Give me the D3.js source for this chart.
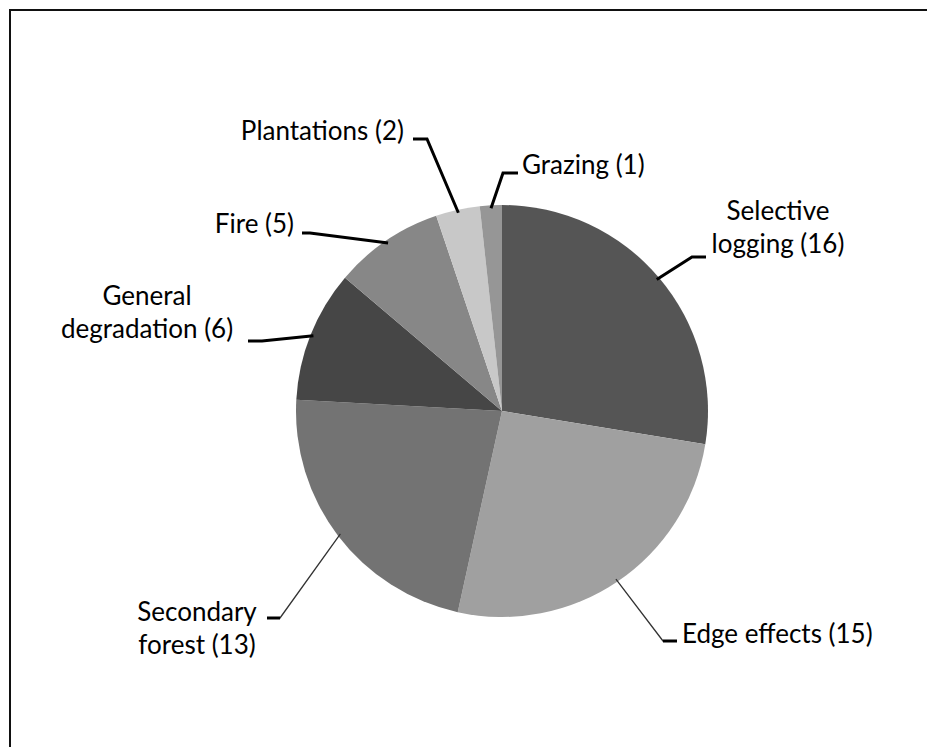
<!DOCTYPE html>
<html><head><meta charset="utf-8">
<script src="https://cdn.jsdelivr.net/npm/d3@7"></script>
<style>html,body{margin:0;padding:0;background:#fff;}svg{display:block;}</style>
</head><body>
<svg id="chart" width="927" height="747"></svg>
<script>
// ---- data ----
const categories = ["Selective logging", "Edge effects", "Secondary forest", "General degradation", "Fire", "Plantations", "Grazing"];
const counts = [16, 15, 13, 6, 5, 2, 1];
const labelLines = [["Selective", "logging (16)"], ["Edge effects (15)"], ["Secondary", "forest (13)"], ["General", "degradation (6)"], ["Fire (5)"], ["Plantations (2)"], ["Grazing (1)"]];

// ---- style / layout ----
const colors = ["#555555", "#a0a0a0", "#737373", "#464646", "#878787", "#c8c8c8", "#969696"];
const cx = 502, cy = 411, R = 206;
// label layout: elbow point, horizontal end, text anchor, text x, first baseline, thin leader
const layout = [
  {ex: 692, ey: 257, hx: 706, anchor: "middle", tx: 778, ty: 220, thin: false},
  {ex: 663, ey: 641, hx: 677, anchor: "start",  tx: 682, ty: 643, thin: true},
  {ex: 280, ey: 618, hx: 267, anchor: "middle", tx: 197, ty: 621, thin: true},
  {ex: 262, ey: 341, hx: 248, anchor: "middle", tx: 147, ty: 305, thin: false},
  {ex: 310, ey: 233, hx: 302, anchor: "end",    tx: 294, ty: 233, thin: false},
  {ex: 427, ey: 139, hx: 413, anchor: "end",    tx: 404, ty: 140, thin: false},
  {ex: 503, ey: 173, hx: 518, anchor: "start",  tx: 522, ty: 174, thin: false}
];
const lineHeight = 33;

const svg = d3.select("#chart");
svg.append("rect").attr("x", 10).attr("y", 10).attr("width", 1000).attr("height", 1000)
  .attr("fill", "none").attr("stroke", "#111").attr("stroke-width", 2);

const pie = d3.pie().sort(null).value(d => d)(counts);
const arc = d3.arc().innerRadius(0).outerRadius(R);
const g = svg.append("g").attr("transform", `translate(${cx},${cy})`);
g.selectAll("path").data(pie).join("path")
  .attr("d", arc).attr("fill", (d, i) => colors[i]);

const edgeArc = d3.arc().innerRadius(R - 3).outerRadius(R - 3);
pie.forEach((d, i) => {
  const L = layout[i];
  const [px, py] = edgeArc.centroid(d);
  svg.append("path")
    .attr("d", `M${px + cx},${py + cy}L${L.ex},${L.ey}L${L.hx},${L.ey}`)
    .attr("fill", "none").attr("stroke", L.thin ? "#333" : "#000")
    .attr("stroke-width", L.thin ? 1.3 : 3).attr("stroke-linejoin", "miter");
  const t = svg.append("text").attr("text-anchor", L.anchor)
    .attr("font-family", "Lato, 'Open Sans', sans-serif").attr("font-size", 26).attr("fill", "#000");
  labelLines[i].forEach((s, k) => {
    t.append("tspan").attr("x", L.tx).attr("y", L.ty + k * lineHeight).text(s);
  });
});
// thicker short stub at the horizontal end for thin leaders
pie.forEach((d, i) => {
  const L = layout[i];
  if (L.thin) {
    svg.append("line").attr("x1", L.ex).attr("x2", L.hx).attr("y1", L.ey).attr("y2", L.ey)
      .attr("stroke", "#000").attr("stroke-width", 3);
  }
});
</script>
</body></html>
